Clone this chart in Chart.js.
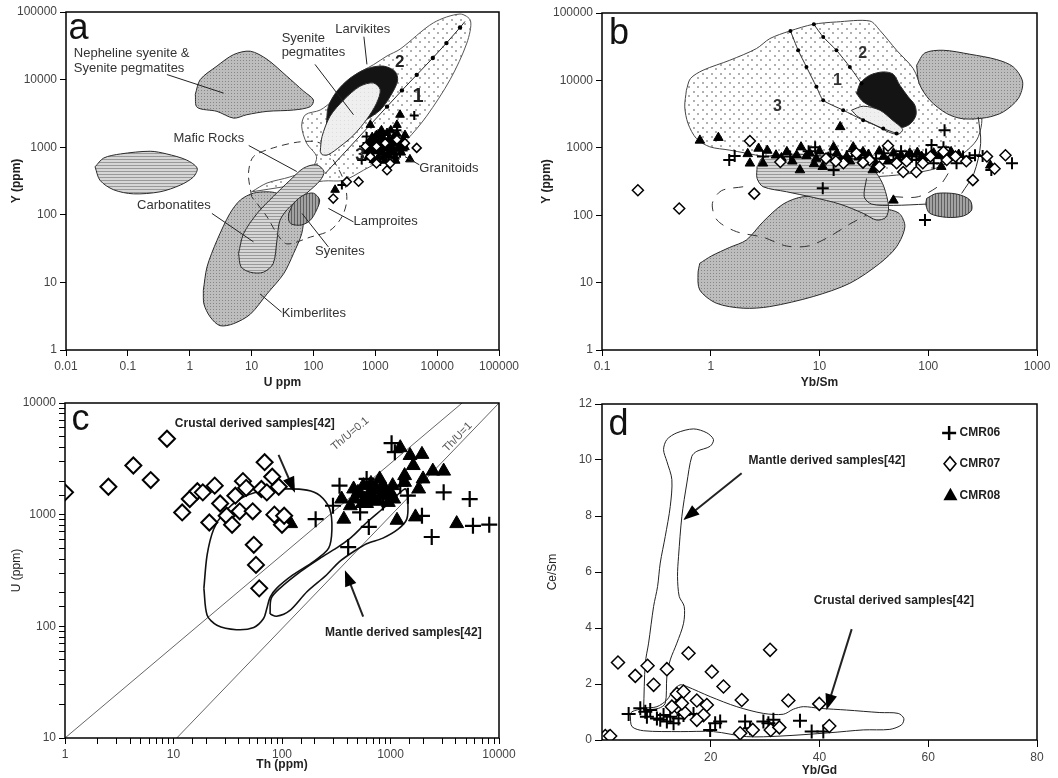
<!DOCTYPE html>
<html><head><meta charset="utf-8">
<script src="https://cdn.jsdelivr.net/npm/chart.js@4.4.1/dist/chart.umd.min.js"></script>
<style>
body{margin:0;background:#fff;width:1058px;height:778px;overflow:hidden;position:relative}
canvas{position:absolute}
</style></head>
<body>
<canvas id="ca" width="530" height="390" style="left:0;top:0"></canvas>
<canvas id="cb" width="528" height="390" style="left:530px;top:0"></canvas>
<canvas id="cc" width="530" height="388" style="left:0;top:390px"></canvas>
<canvas id="cd" width="528" height="388" style="left:530px;top:390px"></canvas>
<script>
// ================= DATA (log10 pairs for log axes, plain values for panel d) =================
// Panel a : U ppm (x) vs Y ppm (y), stored as [log10 U, log10 Y]
const aNephelineLog = [[0.09,3.78],[0.17,4.00],[0.44,4.20],[0.71,4.37],[0.98,4.42],[1.25,4.30],[1.57,4.05],[1.84,3.83],[2.00,3.70],[1.95,3.60],[1.68,3.55],[1.25,3.53],[0.92,3.48],[0.71,3.43],[0.44,3.53],[0.12,3.59]];
const aCarbonatiteLog = [[-1.53,2.71],[-1.39,2.84],[-1.12,2.90],[-0.64,2.94],[-0.37,2.90],[-0.05,2.81],[0.12,2.69],[0.06,2.56],[-0.15,2.44],[-0.48,2.34],[-0.91,2.31],[-1.23,2.37],[-1.45,2.51]];
const aKimberliteLog = [[0.22,0.88],[0.28,1.23],[0.44,1.62],[0.65,2.02],[0.82,2.22],[1.03,2.32],[1.25,2.34],[1.41,2.32],[1.62,2.22],[1.79,2.12],[1.84,1.97],[1.81,1.72],[1.68,1.43],[1.52,1.13],[1.25,0.83],[0.98,0.53],[0.71,0.39],[0.49,0.36],[0.33,0.49],[0.23,0.68]];
const aMaficLog = [[0.79,1.43],[0.87,1.72],[1.09,2.02],[1.35,2.27],[1.62,2.51],[1.84,2.69],[2.05,2.74],[2.17,2.64],[2.11,2.51],[1.89,2.32],[1.62,2.12],[1.46,1.92],[1.41,1.62],[1.35,1.28],[1.19,1.15],[0.98,1.15],[0.83,1.23]];
const aSyeniteLog = [[1.60,2.02],[1.68,2.17],[1.84,2.29],[2.00,2.32],[2.10,2.22],[2.05,2.07],[1.95,1.92],[1.81,1.85],[1.65,1.86],[1.60,1.92]];
const aLamproiteLog = [[1.00,2.27],[0.95,2.61],[1.03,2.86],[1.35,2.99],[1.79,3.08],[2.11,3.06],[2.32,2.81],[2.49,2.51],[2.54,2.22],[2.46,1.97],[2.27,1.77],[1.95,1.67],[1.57,1.57],[1.41,1.72],[1.25,1.97]];
const aGranitoidLog = [[1.00,2.34],[1.25,2.47],[1.62,2.56],[1.97,2.69],[2.05,2.86],[1.89,3.06],[1.81,3.31],[1.87,3.48],[2.11,3.55],[2.32,3.70],[2.65,4.05],[2.97,4.22],[3.19,4.35],[3.40,4.45],[3.94,4.84],[4.37,4.97],[4.54,4.87],[4.48,4.54],[4.21,4.00],[3.83,3.46],[3.51,3.11],[3.19,2.86],[2.81,2.66],[2.49,2.51],[2.16,2.50]];
const aDivideLog = [[2.19,2.61],[3.19,3.60],[3.43,3.84],[3.67,4.07],[3.93,4.32],[4.15,4.54],[4.37,4.77],[4.45,4.86]];
const aLarvikiteLog = [[2.21,3.33],[2.24,3.60],[2.38,3.83],[2.59,4.02],[2.86,4.16],[3.13,4.20],[3.32,4.12],[3.36,3.98],[3.24,3.75],[3.08,3.55],[2.86,3.41],[2.59,3.28],[2.32,3.23]];
const aSyPegLog = [[2.11,2.94],[2.14,3.16],[2.27,3.46],[2.49,3.70],[2.75,3.90],[2.97,3.95],[3.08,3.85],[3.02,3.65],[2.86,3.41],[2.65,3.18],[2.43,3.01],[2.24,2.89],[2.14,2.89]];
const aCMR06Log = [[3.63,3.47],[2.81,3.01],[2.97,2.91],[3.13,3.11],[3.27,2.99],[2.86,3.16],[3.08,2.79],[3.40,2.91],[3.19,3.01],[2.78,2.81],[2.46,2.44],[3.05,3.20],[3.35,3.25],[2.93,3.10],[3.22,2.85],[3.10,2.98],[3.30,3.05],[3.45,2.95]];
const aCMR07Log = [[3.67,2.99],[3.19,2.66],[2.54,2.49],[2.73,2.49],[2.32,2.24],[2.92,2.86],[3.02,3.01],[3.24,2.76],[3.35,3.11],[3.48,3.06],[3.02,2.76],[2.84,3.01],[3.16,3.06]];
const aCMR08Log = [[3.40,3.48],[2.92,3.33],[3.35,3.33],[3.48,3.18],[3.56,2.82],[2.35,2.37],[3.00,3.11],[3.08,3.01],[3.19,3.21],[3.29,3.06],[2.86,2.94],[3.13,2.86],[3.24,2.94],[3.40,3.01],[2.97,2.81],[3.08,3.21],[3.45,3.11],[2.89,3.06],[3.32,2.86],[3.05,2.95],[3.15,3.05],[3.22,3.12],[2.95,3.00],[3.12,2.92],[3.30,3.15],[3.02,3.18],[3.18,2.98],[3.36,2.97],[2.92,2.90],[3.26,3.00],[3.10,3.25],[3.25,3.25],[3.35,3.20],[2.98,3.08],[3.05,2.85],[3.20,2.90],[3.30,2.92],[2.90,2.98],[3.12,3.15],[3.38,3.05],[3.42,2.92],[3.00,2.95],[3.16,2.80],[3.27,3.10],[2.95,3.15],[3.08,3.10],[3.22,3.02],[3.33,2.80],[3.48,3.00],[2.88,2.85]];

// Panel b : Yb/Sm (x) vs Y ppm (y), [log10 x, log10 y]
const bGranitoidLog = [[-0.224,3.854],[-0.187,4.027],[-0.071,4.151],[0.175,4.299],[0.420,4.472],[0.543,4.620],[0.727,4.733],[0.942,4.832],[1.156,4.867],[1.463,4.881],[1.555,4.743],[1.709,4.447],[1.862,4.175],[1.954,3.854],[2.077,3.706],[2.322,3.657],[2.475,3.558],[2.491,3.360],[2.445,3.114],[2.322,2.916],[2.169,2.768],[2.015,2.669],[1.709,2.595],[1.402,2.570],[1.095,2.620],[0.788,2.719],[0.482,2.867],[0.175,2.965],[-0.009,3.015],[-0.132,3.138],[-0.209,3.360],[-0.239,3.607]];
const bLineALog = [[0.733,4.733],[0.804,4.447],[0.880,4.200],[0.972,3.904],[1.034,3.706],[1.218,3.558],[1.402,3.410],[1.586,3.286],[1.709,3.212]];
const bLineBLog = [[0.948,4.832],[1.034,4.644],[1.156,4.447],[1.279,4.200],[1.387,3.953]];
const bLarvikiteLog = [[1.340,3.805],[1.377,3.963],[1.463,4.077],[1.586,4.126],[1.678,4.091],[1.739,3.928],[1.816,3.756],[1.877,3.632],[1.887,3.484],[1.831,3.351],[1.739,3.301],[1.647,3.410],[1.540,3.558],[1.402,3.681]];
const bSyPegLog = [[1.294,3.558],[1.402,3.617],[1.555,3.558],[1.678,3.400],[1.764,3.272],[1.724,3.202],[1.632,3.237],[1.494,3.351],[1.356,3.459]];
const bNephelineLog = [[1.893,4.225],[1.969,4.407],[2.138,4.447],[2.383,4.388],[2.629,4.309],[2.782,4.200],[2.868,3.978],[2.828,3.731],[2.690,3.533],[2.537,3.449],[2.322,3.430],[2.169,3.509],[2.015,3.706],[1.917,3.953]];
const bMaficLog = [[0.426,2.719],[0.482,2.857],[0.788,2.906],[1.095,2.867],[1.402,2.807],[1.525,2.620],[1.592,2.422],[1.635,2.126],[1.610,1.968],[1.525,1.928],[1.402,2.027],[1.187,2.165],[0.942,2.264],[0.696,2.348],[0.482,2.422],[0.426,2.546]];
const bKimberliteLog = [[-0.101,1.286],[0.006,1.395],[0.175,1.523],[0.328,1.632],[0.482,1.904],[0.666,2.165],[0.850,2.274],[1.095,2.249],[1.402,2.151],[1.586,2.101],[1.733,2.027],[1.785,1.830],[1.709,1.533],[1.555,1.286],[1.279,0.990],[0.942,0.793],[0.543,0.644],[0.298,0.620],[0.052,0.694],[-0.101,0.891],[-0.117,1.138]];
const bSyeniteLog = [[1.985,2.249],[2.077,2.323],[2.261,2.314],[2.383,2.225],[2.399,2.077],[2.322,1.988],[2.169,1.968],[2.015,2.027],[1.979,2.151]];
const bLamproiteLog = [[0.298,2.422],[0.098,2.363],[0.015,2.175],[0.058,1.928],[0.236,1.756],[0.482,1.672],[0.696,1.543],[0.896,1.543],[1.080,1.672],[1.279,1.869],[1.433,2.002]];
const bLamproite2Log = [[1.678,2.274],[1.908,2.274],[2.107,2.447],[2.193,2.644]];
const bEdge1Log = [[1.433,2.546],[1.411,2.274],[1.479,2.165],[1.678,2.146],[1.985,2.165]];
const bEdge2Log = [[2.460,3.459],[2.482,3.064],[2.420,2.620],[2.307,2.323]];
const bCMR06Log = [[0.17,2.82],[0.22,2.88],[0.96,3.01],[1.03,2.40],[1.13,2.67],[1.97,1.93],[2.15,3.26],[2.03,3.04],[2.14,3.01],[1.25,2.87],[1.37,2.89],[1.52,2.84],[1.59,2.92],[1.85,2.87],[1.89,2.82],[2.32,2.87],[2.43,2.89],[2.77,2.77],[2.58,2.67],[2.26,2.77],[2.05,2.77],[1.68,2.82],[0.73,2.87],[0.48,2.87],[0.90,2.95],[1.10,2.90],[1.30,2.95],[1.45,2.85],[1.75,2.95],[1.98,2.90],[2.20,2.92],[2.38,2.85],[2.50,2.88]];
const bCMR07Log = [[-0.67,2.37],[-0.29,2.10],[0.36,3.10],[0.40,2.32],[0.64,2.79],[1.63,3.03],[2.41,2.52],[2.54,2.87],[2.71,2.89],[2.61,2.69],[1.89,2.64],[1.77,2.64],[2.02,2.87],[2.14,2.94],[1.46,2.82],[1.06,2.84],[1.34,2.92],[1.55,2.72],[1.71,2.77],[1.95,2.77],[2.17,2.82],[1.22,2.77],[1.15,2.80],[1.40,2.78],[1.80,2.80],[2.25,2.87],[2.35,2.80]];
const bCMR08Log = [[-0.10,3.11],[0.07,3.15],[1.19,3.31],[0.34,2.91],[0.36,2.77],[0.48,2.77],[0.44,2.99],[0.52,2.96],[0.60,2.89],[0.70,2.94],[0.82,2.67],[0.83,3.01],[0.91,2.92],[0.97,2.84],[1.03,2.72],[1.13,3.01],[1.19,2.82],[1.25,2.87],[1.31,3.01],[1.40,2.94],[1.49,2.67],[1.59,2.87],[1.68,2.92],[1.75,2.89],[1.83,2.92],[1.94,2.87],[2.05,2.92],[2.12,2.72],[2.21,2.94],[1.68,2.22],[2.57,2.74],[0.79,2.89],[0.65,2.85],[0.75,2.80],[0.88,2.88],[1.00,2.95],[1.08,2.86],[1.16,2.92],[1.28,2.80],[1.36,2.86],[1.45,2.90],[1.55,2.95],[1.63,2.80],[1.72,2.84],[1.80,2.86],[1.90,2.93],[2.00,2.85],[2.10,2.88],[2.18,2.85],[2.28,2.90],[0.95,2.76],[1.52,2.76]];

// Panel c : Th ppm (x) vs U ppm (y), [log10 Th, log10 U]
const cCrustalLog = [[1.28,2.34],[1.31,2.10],[1.40,2.01],[1.58,1.97],[1.74,1.99],[1.83,2.07],[1.86,2.16],[1.89,2.26],[1.95,2.34],[2.10,2.46],[2.29,2.58],[2.43,2.70],[2.46,2.87],[2.44,3.05],[2.35,3.17],[2.23,3.22],[2.01,3.23],[1.80,3.21],[1.61,3.14],[1.46,3.01],[1.37,2.87],[1.31,2.64]];
const cMantleLog = [[1.89,2.11],[1.90,2.25],[1.98,2.34],[2.17,2.49],[2.35,2.61],[2.50,2.70],[2.63,2.79],[2.78,2.93],[2.96,3.08],[3.09,3.20],[3.14,3.23],[3.16,3.11],[3.15,2.96],[3.07,2.87],[2.93,2.79],[2.78,2.74],[2.66,2.67],[2.53,2.58],[2.41,2.46],[2.23,2.31],[2.07,2.14],[1.95,2.09]];
const cRatio01Log = [[0,1],[3.66,4]];
const cRatio1Log = [[1.03,1],[4,4]];
const cCMR06Log = [[2.31,2.96],[2.53,3.26],[2.47,3.08],[2.61,2.71],[2.78,3.32],[2.80,2.89],[2.72,3.02],[3.01,3.64],[3.04,3.56],[3.09,3.26],[3.16,3.17],[3.29,2.99],[3.38,2.80],[3.49,3.20],[3.73,3.14],[3.76,2.90],[3.91,2.91],[2.93,3.11],[2.90,3.23]];
const cCMR07Log = [[0,3.20],[0.40,3.25],[0.63,3.44],[0.79,3.31],[0.94,3.68],[1.08,3.02],[1.15,3.14],[1.22,3.21],[1.27,3.20],[1.33,2.93],[1.38,3.26],[1.43,3.10],[1.49,2.99],[1.54,2.91],[1.57,3.17],[1.61,3.03],[1.64,3.30],[1.67,3.24],[1.73,3.03],[1.74,2.73],[1.76,2.55],[1.79,2.34],[1.81,3.23],[1.84,3.47],[1.86,3.20],[1.91,3.34],[1.93,3.00],[1.97,3.25],[2.00,2.91],[2.02,2.99]];
const cCMR08Log = [[2.08,2.92],[2.55,3.14],[2.57,2.96],[2.63,3.08],[2.67,3.14],[2.72,3.19],[2.76,3.14],[2.78,3.10],[2.81,3.20],[2.84,3.14],[2.87,3.23],[2.90,3.32],[2.92,3.17],[2.95,3.23],[2.98,3.11],[3.03,3.14],[3.06,2.95],[3.09,3.60],[3.13,3.35],[3.18,3.53],[3.21,3.44],[3.23,2.98],[3.26,3.23],[3.29,3.54],[3.30,3.32],[3.39,3.39],[3.49,3.39],[3.61,2.92],[3.13,3.29],[2.66,3.23],[2.75,3.26],[2.70,3.20],[2.80,3.16],[2.85,3.22],[2.88,3.12],[2.93,3.25],[2.97,3.18],[3.00,3.20],[2.74,3.10],[2.82,3.28],[3.02,3.26]];

// Panel d : Yb/Gd (x) vs Ce/Sm (y), plain values
const dMantle = [[7.65,1.07],[7.96,2.74],[8.57,3.46],[9.49,4.77],[10.22,5.48],[10.71,6.32],[11.63,7.27],[12.55,8.34],[12.85,9.30],[11.93,9.95],[11.32,10.37],[11.93,10.73],[13.77,10.97],[16.83,11.11],[19.28,10.97],[20.50,10.73],[19.89,10.49],[17.44,10.31],[16.52,10.13],[15.61,9.18],[14.69,7.99],[14.08,6.56],[13.89,5.84],[14.20,5.13],[15.12,4.77],[15.00,4.17],[13.77,3.46],[12.55,2.86],[11.93,2.26],[11.63,1.31],[10.40,1.13]];
const dCrustal = [[5.20,0.89],[5.51,0.48],[7.65,0.33],[14.38,0.30],[20.50,0.30],[26.62,0.12],[32.74,0.14],[41.92,0.26],[48.04,0.36],[52.94,0.38],[55.08,0.54],[55.51,0.77],[54.47,0.95],[51.10,0.98],[44.98,1.07],[40.09,1.13],[37.03,1.19],[35.19,1.10],[33.35,0.92],[29.68,0.95],[24.79,1.19],[19.89,1.55],[15.61,1.91],[14.38,1.97],[13.16,1.79],[11.93,1.43],[10.10,1.19],[7.65,1.13],[5.51,1.01]];
const dCMR06 = [[4.90,0.93],[7.04,1.13],[7.96,1.01],[8.26,0.83],[8.87,1.07],[10.10,0.77],[10.71,0.72],[11.32,0.89],[11.93,0.66],[12.55,0.83],[13.16,0.60],[14.08,0.77],[14.99,0.89],[16.83,0.93],[19.89,0.36],[20.81,0.60],[21.73,0.66],[26.32,0.66],[27.23,0.42],[29.68,0.66],[30.60,0.60],[31.52,0.72],[36.41,0.69],[38.56,0.30],[40.70,0.30],[1.22,0.12]];
const dCMR07 = [[2.94,2.77],[6.12,2.29],[8.38,2.65],[9.49,1.97],[11.93,2.53],[13.77,1.64],[14.99,1.73],[15.18,0.98],[15.91,3.10],[17.44,1.41],[18.67,0.89],[19.28,1.25],[20.20,2.44],[22.34,1.91],[25.70,1.43],[25.40,0.24],[27.72,0.36],[30.91,3.22],[31.03,0.36],[32.62,0.45],[34.27,1.41],[39.96,1.29],[41.80,0.50],[13.77,1.19],[14.69,1.31],[12.85,1.19],[17.44,0.72],[0.60,0.14],[1.50,0.14]];

// axis ranges / tick labels
const aXRange = [0.01, 100000], aYRange = [1, 100000];
const bXRange = [0.1, 1000],   bYRange = [1, 100000];
const cXRange = [1, 10000],    cYRange = [10, 10000];
const dXRange = [0, 80],       dYRange = [0, 12];
const dXStep = 20, dYStep = 2;
const seriesNames = ['CMR06','CMR07','CMR08'];

// ================= helpers =================
const FONT = "'Liberation Sans', Arial, Helvetica, sans-serif";
Chart.defaults.font.family = FONT;
Chart.defaults.font.size = 12;
Chart.defaults.color = '#444';
Chart.defaults.animation = false;

const lg = arr => arr.map(([a,b]) => ({x: Math.pow(10,a), y: Math.pow(10,b)}));
const lgc = arr => { const d = lg(arr); d.push({...d[0]}); return d; };
const lin = arr => arr.map(([a,b]) => ({x:a, y:b}));
const linc = arr => { const d = lin(arr); d.push({...d[0]}); return d; };

function pattern(w,h,bg,fn){ const c=document.createElement('canvas'); c.width=w; c.height=h; const g=c.getContext('2d'); g.fillStyle=bg; g.fillRect(0,0,w,h); fn(g); return g.createPattern(c,'repeat'); }
const PAT = {
  stipple: pattern(3,3,'#bdbdbd', g=>{ g.fillStyle='#868686'; g.fillRect(0,0,1,1); }),
  dots: pattern(9,9,'#ffffff', g=>{ g.fillStyle='#b0b0b0'; g.fillRect(1,1,2,2); g.fillRect(5,5,2,2); }),
  hstripe: pattern(3,3,'#d6d6d6', g=>{ g.fillStyle='#999999'; g.fillRect(0,0,3,1); }),
  vstripe: pattern(3,3,'#a2a2a2', g=>{ g.fillStyle='#5f5f5f'; g.fillRect(0,0,1,3); }),
  light: pattern(4,4,'#efefef', g=>{ g.fillStyle='#dddddd'; g.fillRect(0,0,1,1); })
};

function poly(data, fillStyle, order, extra){
  return Object.assign({type:'line', data, order, fill: fillStyle ? 'shape' : false,
    backgroundColor: fillStyle || 'transparent', borderColor:'#2a2a2a', borderWidth:1,
    pointRadius:0, pointHoverRadius:0, tension:0.3}, extra||{});
}
function series(label, data, kind, r, order, bw){
  const base = {type:'scatter', label, data, order, pointRadius:r, pointHoverRadius:r};
  if (kind==='cross') return {...base, pointStyle:'cross', borderColor:'#000', backgroundColor:'#000', borderWidth:bw||2};
  if (kind==='diamond') return {...base, pointStyle:'rectRot', borderColor:'#000', backgroundColor:'#fff', borderWidth:bw||1.5};
  return {...base, pointStyle:'triangle', borderColor:'#000', backgroundColor:'#000', borderWidth:1};
}
const isMajor = v => Math.abs(Math.log10(v) - Math.round(Math.log10(v))) < 1e-6;
const fmt = v => { const e = Math.round(Math.log10(v)); return e < 0 ? v.toFixed(-e) : String(Math.round(v)); };

function logAxis(range, title, bold, size, showMinor, titlePad){
  return {type:'logarithmic', min:range[0], max:range[1],
    afterFit: s => { if (s.isHorizontal()) s.height = size; else s.width = size; },
    grid:{drawOnChartArea:false, drawTicks:true, tickLength:6, color:'#000', lineWidth:1},
    border:{display:false},
    ticks:{autoSkip:false, maxRotation:0, color:'#444', font:{size:12}, padding:3,
      callback: v => isMajor(v) ? fmt(v) : (showMinor ? '' : null)},
    title:{display:true, text:title, color:'#222', font:{size:12, weight: bold?'bold':'normal'}, padding: titlePad}
  };
}
function linAxis(range, step, title, bold, size, hideZero, titlePad){
  return {type:'linear', min:range[0], max:range[1],
    afterFit: s => { if (s.isHorizontal()) s.height = size; else s.width = size; },
    grid:{drawOnChartArea:false, drawTicks:true, tickLength:7, color:'#000'},
    border:{display:false},
    ticks:{stepSize:step, autoSkip:false, maxRotation:0, color:'#444', font:{size:12},
      callback: v => (hideZero && v===0) ? null : String(v)},
    title:{display:true, text:title, color:'#222', font:{size:12, weight: bold?'bold':'normal'}, padding: titlePad}
  };
}
const frame = {id:'frame', afterDraw(chart){ const {ctx, chartArea:a}=chart; ctx.save(); ctx.strokeStyle='#000'; ctx.lineWidth=1.5; ctx.strokeRect(a.left,a.top,a.right-a.left,a.bottom-a.top); ctx.restore(); }};

function drawMarker(ctx, kind, x, y, r){
  ctx.save(); ctx.strokeStyle='#000'; ctx.beginPath();
  if (kind==='cross'){ ctx.lineWidth=2.5; ctx.moveTo(x-r,y); ctx.lineTo(x+r,y); ctx.moveTo(x,y-r); ctx.lineTo(x,y+r); ctx.stroke(); }
  else if (kind==='diamond'){ ctx.lineWidth=1.6; ctx.moveTo(x,y-r); ctx.lineTo(x+r*0.85,y); ctx.lineTo(x,y+r); ctx.lineTo(x-r*0.85,y); ctx.closePath(); ctx.fillStyle='#fff'; ctx.fill(); ctx.stroke(); }
  else { ctx.moveTo(x,y-r); ctx.lineTo(x+r,y+r*0.8); ctx.lineTo(x-r,y+r*0.8); ctx.closePath(); ctx.fillStyle='#000'; ctx.fill(); }
  ctx.restore();
}
function notes(items){
  return {id:'notes', afterDatasetsDraw(chart){
    const {ctx, chartArea:a} = chart;
    const X = f => a.left + f*(a.right-a.left), Y = f => a.top + f*(a.bottom-a.top);
    ctx.save();
    for (const it of items){
      if (it.t==='text'){
        ctx.font = (it.bold?'bold ':'') + (it.size||13) + 'px ' + FONT;
        ctx.fillStyle = it.color || '#333';
        ctx.textAlign = it.align || 'left';
        ctx.textBaseline = it.base || 'middle';
        if (it.rot){ ctx.save(); ctx.translate(X(it.fx), Y(it.fy)); ctx.rotate(it.rot*Math.PI/180); ctx.fillText(it.s,0,0); ctx.restore(); }
        else ctx.fillText(it.s, X(it.fx), Y(it.fy));
      } else if (it.t==='line'){
        const x1=X(it.p[0]), y1=Y(it.p[1]), x2=X(it.p[2]), y2=Y(it.p[3]);
        ctx.strokeStyle = it.color || '#222'; ctx.lineWidth = it.w || 1;
        const ang = Math.atan2(y2-y1, x2-x1), L = 16, W = 6;
        const ex = it.arrow ? x2 - (L-2)*Math.cos(ang) : x2, ey = it.arrow ? y2 - (L-2)*Math.sin(ang) : y2;
        ctx.beginPath(); ctx.moveTo(x1,y1); ctx.lineTo(ex,ey); ctx.stroke();
        if (it.arrow){
          ctx.fillStyle='#000'; ctx.beginPath(); ctx.moveTo(x2,y2);
          ctx.lineTo(x2-L*Math.cos(ang)+W*Math.sin(ang), y2-L*Math.sin(ang)-W*Math.cos(ang));
          ctx.lineTo(x2-L*Math.cos(ang)-W*Math.sin(ang), y2-L*Math.sin(ang)+W*Math.cos(ang));
          ctx.closePath(); ctx.fill();
        }
      } else if (it.t==='mark'){ drawMarker(ctx, it.kind, X(it.fx), Y(it.fy), it.r); }
    }
    ctx.restore();
  }};
}
function baseOptions(x, y, pad){
  return {responsive:false, animation:false, layout:{padding:pad},
    plugins:{legend:{display:false}, tooltip:{enabled:false}}, events:[],
    scales:{x, y}};
}

// ================= panel a =================
new Chart(document.getElementById('ca'), {
  type:'scatter',
  data:{datasets:[
    series(seriesNames[1], lg(aCMR07Log), 'diamond', 4.5, 1),
    series(seriesNames[0], lg(aCMR06Log), 'cross', 4.5, 2),
    series(seriesNames[2], lg(aCMR08Log), 'triangle', 5, 3),
    poly(lg(aDivideLog), null, 60, {tension:0, pointRadius:[0,2.2,2.2,2.2,2.2,2.2,2.2,0], pointBackgroundColor:'#000', pointBorderWidth:0}),
    poly(lgc(aSyPegLog), PAT.light, 65),
    poly(lgc(aLarvikiteLog), '#141414', 70),
    poly(lgc(aLamproiteLog), null, 75, {borderDash:[7,5], borderColor:'#333'}),
    poly(lgc(aCarbonatiteLog), PAT.hstripe, 80),
    poly(lgc(aNephelineLog), PAT.stipple, 80),
    poly(lgc(aSyeniteLog), PAT.vstripe, 85),
    poly(lgc(aMaficLog), PAT.hstripe, 90),
    poly(lgc(aKimberliteLog), PAT.stipple, 95),
    poly(lgc(aGranitoidLog), PAT.dots, 100, {borderColor:'#555'})
  ]},
  options: baseOptions(logAxis(aXRange,'U ppm',true,40,false,{top:0,bottom:0}), logAxis(aYRange,'Y (ppm)',true,66,false,{top:9,bottom:0}), {top:12,right:31,left:0,bottom:0}),
  plugins:[frame, notes([
    {t:'text', s:'a', fx:0.006, fy:0.081, size:36, base:'alphabetic', color:'#111'},
    {t:'text', s:'Nepheline syenite &', fx:0.018, fy:0.123},
    {t:'text', s:'Syenite pegmatites', fx:0.018, fy:0.167},
    {t:'line', p:[0.233,0.185,0.364,0.240]},
    {t:'text', s:'Syenite', fx:0.498, fy:0.079},
    {t:'text', s:'pegmatites', fx:0.498, fy:0.121},
    {t:'line', p:[0.575,0.155,0.664,0.304]},
    {t:'text', s:'Larvikites', fx:0.622, fy:0.053},
    {t:'line', p:[0.688,0.073,0.695,0.155]},
    {t:'text', s:'2', fx:0.760, fy:0.150, bold:true, size:17, color:'#222'},
    {t:'text', s:'1', fx:0.800, fy:0.250, bold:true, size:20, color:'#222'},
    {t:'text', s:'3', fx:0.668, fy:0.423, bold:true, size:17, color:'#222'},
    {t:'text', s:'Mafic Rocks', fx:0.248, fy:0.373},
    {t:'line', p:[0.422,0.395,0.533,0.472]},
    {t:'text', s:'Carbonatites', fx:0.164, fy:0.573},
    {t:'line', p:[0.337,0.596,0.433,0.680]},
    {t:'text', s:'Lamproites', fx:0.664, fy:0.621},
    {t:'line', p:[0.606,0.581,0.664,0.621]},
    {t:'text', s:'Syenites', fx:0.575, fy:0.707},
    {t:'line', p:[0.545,0.596,0.606,0.695]},
    {t:'text', s:'Kimberlites', fx:0.498, fy:0.893},
    {t:'line', p:[0.448,0.834,0.498,0.888]},
    {t:'text', s:'Granitoids', fx:0.816, fy:0.464},
    {t:'line', p:[0.783,0.428,0.816,0.452]}
  ])]
});

// ================= panel b =================
new Chart(document.getElementById('cb'), {
  type:'scatter',
  data:{datasets:[
    series(seriesNames[1], lg(bCMR07Log), 'diamond', 5.5, 1),
    series(seriesNames[0], lg(bCMR06Log), 'cross', 6, 2),
    series(seriesNames[2], lg(bCMR08Log), 'triangle', 5.5, 3),
    poly(lg(bLineALog), null, 55, {tension:0.2, pointRadius:2, pointBackgroundColor:'#000', pointBorderWidth:0}),
    poly(lg(bLineBLog), null, 55, {tension:0.2, pointRadius:2, pointBackgroundColor:'#000', pointBorderWidth:0}),
    poly(lg(bEdge1Log), null, 58),
    poly(lg(bEdge2Log), null, 58),
    poly(lg(bLamproiteLog), null, 60, {borderDash:[10,8], borderColor:'#333'}),
    poly(lg(bLamproite2Log), null, 60, {borderDash:[10,8], borderColor:'#333'}),
    poly(lgc(bSyPegLog), PAT.light, 65),
    poly(lgc(bLarvikiteLog), '#141414', 70),
    poly(lgc(bNephelineLog), PAT.stipple, 85),
    poly(lgc(bSyeniteLog), PAT.vstripe, 85),
    poly(lgc(bMaficLog), PAT.hstripe, 90),
    poly(lgc(bKimberliteLog), PAT.stipple, 95),
    poly(lgc(bGranitoidLog), PAT.dots, 100, {borderColor:'#444'})
  ]},
  options: baseOptions(logAxis(bXRange,'Yb/Sm',true,40,false,{top:0,bottom:0}), logAxis(bYRange,'Y (ppm)',true,72,false,{top:9,bottom:0}), {top:13,right:21,left:0,bottom:0}),
  plugins:[frame, notes([
    {t:'text', s:'b', fx:0.016, fy:0.091, size:36, base:'alphabetic', color:'#111'},
    {t:'text', s:'1', fx:0.531, fy:0.200, size:16, bold:true, color:'#333'},
    {t:'text', s:'2', fx:0.589, fy:0.121, size:16, bold:true, color:'#333'},
    {t:'text', s:'3', fx:0.393, fy:0.279, size:16, bold:true, color:'#333'}
  ])]
});

// ================= panel c =================
new Chart(document.getElementById('cc'), {
  type:'scatter',
  data:{datasets:[
    series(seriesNames[1], lg(cCMR07Log), 'diamond', 8, 1, 2),
    series(seriesNames[0], lg(cCMR06Log), 'cross', 8, 2, 2.2),
    series(seriesNames[2], lg(cCMR08Log), 'triangle', 8, 3),
    poly(lgc(cCrustalLog), null, 60, {borderWidth:1.6, borderColor:'#111'}),
    poly(lgc(cMantleLog), null, 60, {borderWidth:1.6, borderColor:'#111'}),
    poly(lg(cRatio01Log), null, 70, {tension:0, borderColor:'#666'}),
    poly(lg(cRatio1Log), null, 70, {tension:0, borderColor:'#666'})
  ]},
  options: baseOptions(logAxis(cXRange,'Th (ppm)',true,40,true,{top:0,bottom:6}), logAxis(cYRange,'U (ppm)',false,65,true,{top:9,bottom:0}), {top:13,right:31,left:0,bottom:0}),
  plugins:[frame, notes([
    {t:'text', s:'c', fx:0.015, fy:0.080, size:36, base:'alphabetic', color:'#111'},
    {t:'text', s:'Crustal derived samples[42]', fx:0.253, fy:0.063, bold:true, size:12, color:'#222'},
    {t:'line', p:[0.492,0.155,0.530,0.268], w:2, arrow:true},
    {t:'text', s:'Mantle derived samples[42]', fx:0.599, fy:0.685, bold:true, size:12, color:'#222'},
    {t:'line', p:[0.687,0.638,0.645,0.499], w:2, arrow:true},
    {t:'text', s:'Th/U=0.1', fx:0.657, fy:0.092, align:'center', size:11, color:'#555', rot:-40},
    {t:'text', s:'Th/U=1', fx:0.905, fy:0.102, align:'center', size:11, color:'#555', rot:-46}
  ])]
});

// ================= panel d =================
new Chart(document.getElementById('cd'), {
  type:'scatter',
  data:{datasets:[
    series(seriesNames[1], lin(dCMR07), 'diamond', 6.5, 1),
    series(seriesNames[0], lin(dCMR06), 'cross', 7, 2),
    poly(linc(dMantle), null, 60, {borderColor:'#222'}),
    poly(linc(dCrustal), null, 60, {borderColor:'#222'})
  ]},
  options: baseOptions(linAxis(dXRange,dXStep,'Yb/Gd',true,38,true,{top:0,bottom:0}), linAxis(dYRange,dYStep,'Ce/Sm',false,72,false,{top:15,bottom:0}), {top:14,right:21,left:0,bottom:0}),
  plugins:[frame, notes([
    {t:'text', s:'d', fx:0.015, fy:0.091, size:36, base:'alphabetic', color:'#111'},
    {t:'text', s:'Mantle derived samples[42]', fx:0.337, fy:0.169, bold:true, size:12, color:'#222'},
    {t:'line', p:[0.321,0.206,0.187,0.345], w:2, arrow:true},
    {t:'text', s:'Crustal derived samples[42]', fx:0.487, fy:0.585, bold:true, size:12, color:'#222'},
    {t:'line', p:[0.574,0.670,0.516,0.911], w:2, arrow:true},
    {t:'mark', kind:'cross', fx:0.798, fy:0.086, r:7},
    {t:'text', s:seriesNames[0], fx:0.822, fy:0.086, bold:true, size:12, color:'#222'},
    {t:'mark', kind:'diamond', fx:0.800, fy:0.178, r:7},
    {t:'text', s:seriesNames[1], fx:0.822, fy:0.178, bold:true, size:12, color:'#222'},
    {t:'mark', kind:'triangle', fx:0.801, fy:0.270, r:7},
    {t:'text', s:seriesNames[2], fx:0.822, fy:0.273, bold:true, size:12, color:'#222'}
  ])]
});
</script>
</body></html>
